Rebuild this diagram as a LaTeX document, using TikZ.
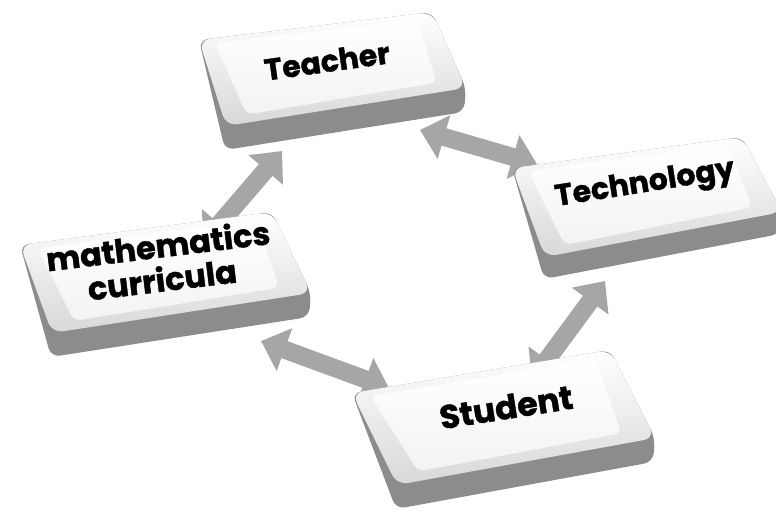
\documentclass[tikz,border=0pt]{standalone}
\usepackage{fontspec}
\setmainfont{Poppins}
\newfontfamily\keyfont{Poppins}[UprightFont={* Bold}, FakeBold=1.3]
\usetikzlibrary{calc,arrows.meta}
\definecolor{arrowgray}{HTML}{A6A6A6}
\definecolor{sidegray}{HTML}{8C8C8C}
\definecolor{bevelgray}{HTML}{D8D8D8}
\definecolor{facelow}{HTML}{F3F3F3}
\newcommand\drawkey[6]{%
  \coordinate (#1tl) at #2;
  \coordinate (#1tr) at #3;
  \coordinate (#1br) at #4;
  \coordinate (#1bl) at #5;
  \fill[sidegray, rounded corners=9pt] (#1tl) -- (#1tr) -- (#1br) -- ($(#1br)+(-2,#6)$) -- ($(#1bl)+(-1,#6)$) -- cycle;
  \shade[top color=white, bottom color=bevelgray, rounded corners=11pt] (#1tl) -- (#1tr) -- (#1br) -- (#1bl) -- cycle;
  \shade[top color=white, bottom color=facelow, rounded corners=7pt]
    ($(#1tl)!0.06!(#1br)$) -- ($(#1tr)!0.07!(#1bl)$) -- ($(#1br)!0.11!(#1tl)$) -- ($(#1bl)!0.10!(#1tr)$) -- cycle;
}
\begin{document}
\begin{tikzpicture}[x=1pt,y=-1pt,
  blockarrow/.style={draw=arrowgray, line width=18pt,
    {Triangle[length=25pt 0 0,width=44pt 0 0,fill=arrowgray]}-{Triangle[length=25pt 0 0,width=44pt 0 0,fill=arrowgray]}},
  keytext/.style={font=\keyfont\fontsize{30}{33}\selectfont, text=black, align=center}]
\useasboundingbox (0,0) rectangle (776,517);
\clip (0,0) rectangle (776,517);
% arrow end coordinates
\coordinate (a1s) at (203,243); \coordinate (a1e) at (282,151);
\coordinate (a2s) at (420,130); \coordinate (a2e) at (537,164);
\coordinate (a3s) at (532,380); \coordinate (a3e) at (605,281);
\coordinate (a4s) at (261,341); \coordinate (a4e) at (389,388);
\draw[blockarrow] (a1s) -- (a1e);
\draw[blockarrow] (a2s) -- (a2e);
\draw[blockarrow] (a3s) -- (a3e);
\draw[blockarrow] (a4s) -- (a4e);
% keys
\drawkey{t}{(199,40)}{(432,12)}{(466,88)}{(226,126)}{24}
\node[keytext, rotate=8] (teacher) at (327,61) {Teacher};
\drawkey{g}{(512,168)}{(742,137)}{(782,212)}{(545,257)}{22}
\node[keytext, rotate=9] (technology) at (645,185) {Technology};
\drawkey{m}{(20,245)}{(272,212)}{(311,293)}{(52,333)}{24}
\node[keytext, rotate=7, font=\keyfont\fontsize{32}{34}\selectfont] (math) at (160,262) {mathematics\\curricula};
\drawkey{s}{(352,393)}{(610,350)}{(655,438)}{(397,485)}{24}
\node[keytext, rotate=9, font=\keyfont\fontsize{33}{35}\selectfont] (student) at (506,407) {Student};
\end{tikzpicture}
\end{document}
